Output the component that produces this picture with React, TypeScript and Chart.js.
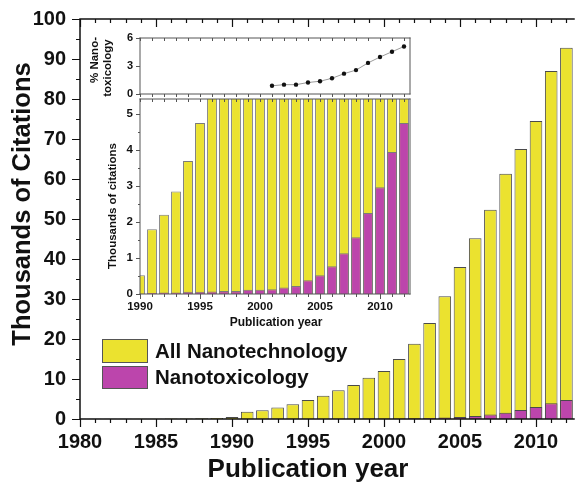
import React, { useEffect, useRef } from 'react';
import { Chart, registerables } from 'chart.js';

Chart.register(...registerables);

// ---------- data ----------
const years = [
  1980, 1981, 1982, 1983, 1984, 1985, 1986, 1987, 1988, 1989,
  1990, 1991, 1992, 1993, 1994, 1995, 1996, 1997, 1998, 1999,
  2000, 2001, 2002, 2003, 2004, 2005, 2006, 2007, 2008, 2009,
  2010, 2011, 2012,
];
// thousands of citations
const allNanotechnology = [
  0.04, 0.05, 0.05, 0.06, 0.07, 0.08, 0.1, 0.12, 0.18, 0.25,
  0.52, 1.8, 2.2, 2.85, 3.7, 4.75, 5.8, 7.2, 8.5, 10.3,
  12.0, 15.0, 18.8, 24.0, 30.7, 38.0, 45.2, 52.3, 61.3, 67.5,
  74.5, 87.0, 92.8,
];
const nanotoxicology = [
  0, 0, 0, 0, 0, 0, 0, 0, 0, 0,
  0.01, 0.03, 0.04, 0.04, 0.06, 0.06, 0.07, 0.08, 0.08, 0.12,
  0.12, 0.13, 0.18, 0.22, 0.38, 0.52, 0.77, 1.13, 1.58, 2.25,
  2.97, 3.95, 4.75,
];
const pctYears = [2001, 2002, 2003, 2004, 2005, 2006, 2007, 2008, 2009, 2010, 2011, 2012];
const pctNanotoxicology = [0.88, 1.0, 1.0, 1.23, 1.37, 1.68, 2.18, 2.56, 3.33, 3.96, 4.53, 5.09];

const seriesLabels = ['All Nanotechnology', 'Nanotoxicology'];
const mainXTitle = 'Publication year';
const mainYTitle = 'Thousands of Citations';
const insetXTitle = 'Publication year';
const insetYTitle = 'Thousands of citations';
const insetPctTitle = ['% Nano-', 'toxicology'];

// ---------- styles ----------
const FONT = "'Liberation Sans', Arial, Helvetica, sans-serif";
const YELLOW = '#ebe22f';
const MAGENTA = '#bc45ac';
const TEXT = '#111111';

type TickSpec = { scale: string; edge: 'left' | 'right' | 'top' | 'bottom'; step: number; len: number; inward?: boolean };
type TextSpec = { text: string; x: number; y: number; size: number; rot?: number; align?: CanvasTextAlign };
type DecorSpec = {
  origin: { x: number; y: number };
  frame?: { sides: string[]; color: string; width: number };
  ticks?: TickSpec[];
  tickColor?: string;
  tickWidth?: number;
  texts?: TextSpec[];
  legend?: { boxes: { x: number; y: number; w: number; h: number }[]; textX: number; size: number; order: number[]; border: string };
};

function makeDecor(spec: DecorSpec) {
  return {
    id: 'decor',
    afterDatasetsDraw(chart: any) {
      const ctx: CanvasRenderingContext2D = chart.ctx;
      const a = chart.chartArea;
      const ox = spec.origin.x;
      const oy = spec.origin.y;
      ctx.save();
      // ticks
      if (spec.ticks) {
        ctx.strokeStyle = spec.tickColor || TEXT;
        ctx.lineWidth = spec.tickWidth || 1;
        ctx.beginPath();
        for (const t of spec.ticks) {
          const sc = chart.scales[t.scale];
          const start = Math.ceil(sc.min / t.step - 1e-9) * t.step;
          for (let v = start; v <= sc.max + 1e-9; v += t.step) {
            const p = Math.round(sc.getPixelForValue(v)) + 0.5;
            if (t.edge === 'bottom' || t.edge === 'top') {
              const y0 = t.edge === 'bottom' ? a.bottom : a.top;
              const out = t.edge === 'bottom' ? 1 : -1;
              const d = t.inward ? -out : out;
              ctx.moveTo(p, y0);
              ctx.lineTo(p, y0 + d * t.len);
            } else {
              const x0 = t.edge === 'left' ? a.left : a.right;
              const out = t.edge === 'left' ? -1 : 1;
              const d = t.inward ? -out : out;
              ctx.moveTo(x0, p);
              ctx.lineTo(x0 + d * t.len, p);
            }
          }
        }
        ctx.stroke();
      }
      // frame
      if (spec.frame) {
        ctx.strokeStyle = spec.frame.color;
        ctx.lineWidth = spec.frame.width;
        ctx.lineCap = 'square';
        ctx.beginPath();
        const s = spec.frame.sides;
        if (s.includes('left')) { ctx.moveTo(a.left, a.top); ctx.lineTo(a.left, a.bottom); }
        if (s.includes('bottom')) { ctx.moveTo(a.left, a.bottom); ctx.lineTo(a.right, a.bottom); }
        if (s.includes('top')) { ctx.moveTo(a.left, a.top); ctx.lineTo(a.right, a.top); }
        if (s.includes('right')) { ctx.moveTo(a.right, a.top); ctx.lineTo(a.right, a.bottom); }
        ctx.stroke();
      }
      // texts
      ctx.fillStyle = TEXT;
      for (const t of spec.texts || []) {
        ctx.save();
        ctx.font = `bold ${t.size}px ${FONT}`;
        ctx.textAlign = t.align || 'center';
        ctx.textBaseline = 'middle';
        ctx.translate(t.x - ox, t.y - oy);
        if (t.rot) ctx.rotate(t.rot);
        ctx.fillText(t.text, 0, 0);
        ctx.restore();
      }
      // legend
      if (spec.legend) {
        const L = spec.legend;
        L.order.forEach((di, k) => {
          const ds = chart.data.datasets[di];
          const b = L.boxes[k];
          ctx.fillStyle = ds.backgroundColor;
          ctx.fillRect(b.x - ox, b.y - oy, b.w, b.h);
          ctx.strokeStyle = L.border;
          ctx.lineWidth = 1;
          ctx.strokeRect(b.x - ox + 0.5, b.y - oy + 0.5, b.w - 1, b.h - 1);
          ctx.fillStyle = TEXT;
          ctx.font = `bold ${L.size}px ${FONT}`;
          ctx.textAlign = 'left';
          ctx.textBaseline = 'middle';
          ctx.fillText(ds.label, L.textX - ox, b.y - oy + b.h / 2 + 1);
        });
      }
      ctx.restore();
    },
  };
}

function pts(xs: number[], ys: number[]) {
  return xs.map((x, i) => ({ x, y: ys[i] }));
}

function tickFont(size: number) {
  return { family: FONT, size, weight: 'bold' as const };
}

function fixWidth(w: number) {
  return (s: any) => {
    s.width = w;
    s.paddingTop = 0;
    s.paddingBottom = 0;
  };
}

function fixHeight(h: number) {
  return (s: any) => {
    s.height = h;
    s.paddingLeft = 0;
    s.paddingRight = 0;
  };
}

export default function App() {
  const mainRef = useRef<HTMLCanvasElement>(null);
  const topRef = useRef<HTMLCanvasElement>(null);
  const lowRef = useRef<HTMLCanvasElement>(null);

  useEffect(() => {
    const charts: Chart[] = [];

    // ---------- main chart ----------
    charts.push(
      new Chart(mainRef.current as HTMLCanvasElement, {
        type: 'bar',
        data: {
          datasets: [
            {
              label: seriesLabels[0],
              data: pts(years, allNanotechnology),
              backgroundColor: YELLOW,
              borderColor: '#4a4a4a',
              borderWidth: 1,
              order: 2,
              grouped: false,
              barPercentage: 0.83,
              categoryPercentage: 1,
              clip: 0,
            } as any,
            {
              label: seriesLabels[1],
              data: pts(years, nanotoxicology),
              backgroundColor: MAGENTA,
              borderColor: '#4a4a4a',
              borderWidth: 1,
              order: 1,
              grouped: false,
              barPercentage: 0.83,
              categoryPercentage: 1,
              clip: 0,
            } as any,
          ],
        },
        options: {
          responsive: false,
          animation: false,
          devicePixelRatio: 1,
          layout: { padding: { top: 19, right: 1, left: 0, bottom: 0 } },
          plugins: { legend: { display: false }, tooltip: { enabled: false } },
          scales: {
            x: {
              type: 'linear',
              min: 1980,
              max: 2012.5,
              offset: false,
              grid: { display: false, drawTicks: false },
              border: { display: false },
              ticks: {
                stepSize: 5,
                includeBounds: false,
                autoSkip: false,
                maxRotation: 0,
                padding: 11,
                color: TEXT,
                font: tickFont(20),
                callback: (v: any) => String(v),
              },
              afterFit: fixHeight(66),
            },
            y: {
              min: 0,
              max: 100,
              grid: { display: false, drawTicks: false },
              border: { display: false },
              ticks: { stepSize: 10, padding: 14, color: TEXT, font: tickFont(20) },
              afterFit: fixWidth(80),
            },
          },
        } as any,
        plugins: [
          makeDecor({
            origin: { x: 0, y: 0 },
            frame: { sides: ['left', 'bottom', 'top'], color: TEXT, width: 1.5 },
            tickColor: TEXT,
            tickWidth: 1.2,
            ticks: [
              { scale: 'x', edge: 'bottom', step: 1, len: 4 },
              { scale: 'x', edge: 'bottom', step: 5, len: 8 },
              { scale: 'x', edge: 'top', step: 1, len: 4, inward: true },
              { scale: 'x', edge: 'top', step: 5, len: 8, inward: true },
              { scale: 'y', edge: 'left', step: 5, len: 4 },
              { scale: 'y', edge: 'left', step: 10, len: 8 },
            ],
            texts: [
              { text: mainXTitle, x: 308, y: 470, size: 26 },
              { text: mainYTitle, x: 23, y: 204, size: 25.5, rot: -Math.PI / 2 },
            ],
            legend: {
              boxes: [
                { x: 102, y: 339, w: 46, h: 24 },
                { x: 102, y: 366, w: 46, h: 23 },
              ],
              textX: 155,
              size: 20.5,
              order: [0, 1],
              border: '#555555',
            },
          }) as any,
        ],
      })
    );

    // ---------- inset: % nanotoxicology ----------
    charts.push(
      new Chart(topRef.current as HTMLCanvasElement, {
        type: 'line',
        data: {
          datasets: [
            {
              label: '% Nanotoxicology',
              data: pts(pctYears, pctNanotoxicology),
              borderColor: '#9a9a9a',
              borderWidth: 1,
              pointRadius: 2.2,
              pointBackgroundColor: '#111111',
              pointBorderColor: '#111111',
              pointBorderWidth: 0,
              fill: false,
              tension: 0,
            },
          ],
        },
        options: {
          responsive: false,
          animation: false,
          devicePixelRatio: 1,
          layout: { padding: { top: 10, right: 10, left: 0, bottom: 6 } },
          plugins: { legend: { display: false }, tooltip: { enabled: false } },
          scales: {
            x: { type: 'linear', min: 1990, max: 2012.5, display: false },
            y: {
              min: 0,
              max: 6,
              grid: { display: false, drawTicks: false },
              border: { display: false },
              ticks: { stepSize: 3, padding: 7, color: TEXT, font: tickFont(11) },
              afterFit: fixWidth(55),
            },
          },
        } as any,
        plugins: [
          makeDecor({
            origin: { x: 85, y: 28 },
            frame: { sides: ['left', 'bottom', 'top', 'right'], color: '#555555', width: 1 },
            tickColor: '#555555',
            ticks: [
              { scale: 'x', edge: 'bottom', step: 1, len: 3 },
              { scale: 'x', edge: 'top', step: 1, len: 3, inward: true },
              { scale: 'y', edge: 'left', step: 3, len: 4 },
            ],
            texts: [
              { text: insetPctTitle[0], x: 95, y: 60, size: 11.5, rot: -Math.PI / 2 },
              { text: insetPctTitle[1], x: 107.5, y: 68, size: 11.5, rot: -Math.PI / 2 },
            ],
          }) as any,
        ],
      })
    );

    // ---------- inset: thousands of citations since 1990 ----------
    charts.push(
      new Chart(lowRef.current as HTMLCanvasElement, {
        type: 'bar',
        data: {
          datasets: [
            {
              label: seriesLabels[0],
              data: pts(years, allNanotechnology),
              backgroundColor: YELLOW,
              borderColor: '#7a7a7a',
              borderWidth: 1,
              order: 2,
              grouped: false,
              barPercentage: 0.82,
              categoryPercentage: 1,
              clip: 0,
            } as any,
            {
              label: seriesLabels[1],
              data: pts(years, nanotoxicology),
              backgroundColor: MAGENTA,
              borderColor: '#7a7a7a',
              borderWidth: 1,
              order: 1,
              grouped: false,
              barPercentage: 0.82,
              categoryPercentage: 1,
              clip: 0,
            } as any,
          ],
        },
        options: {
          responsive: false,
          animation: false,
          devicePixelRatio: 1,
          layout: { padding: { top: 2, right: 10, left: 0, bottom: 0 } },
          plugins: { legend: { display: false }, tooltip: { enabled: false } },
          scales: {
            x: {
              type: 'linear',
              min: 1990,
              max: 2012.5,
              offset: false,
              grid: { display: false, drawTicks: false },
              border: { display: false },
              ticks: {
                stepSize: 5,
                includeBounds: false,
                autoSkip: false,
                maxRotation: 0,
                padding: 6,
                color: TEXT,
                font: tickFont(11.5),
                callback: (v: any) => String(v),
              },
              afterFit: fixHeight(39),
            },
            y: {
              min: 0,
              max: 5.42,
              grid: { display: false, drawTicks: false },
              border: { display: false },
              ticks: { stepSize: 1, includeBounds: false, padding: 7, color: TEXT, font: tickFont(11.5) },
              afterFit: fixWidth(55),
            },
          },
        } as any,
        plugins: [
          makeDecor({
            origin: { x: 85, y: 97 },
            frame: { sides: ['left', 'bottom', 'top', 'right'], color: '#555555', width: 1 },
            tickColor: '#555555',
            ticks: [
              { scale: 'x', edge: 'bottom', step: 1, len: 3 },
              { scale: 'x', edge: 'bottom', step: 5, len: 5 },
              { scale: 'x', edge: 'top', step: 1, len: 3, inward: true },
              { scale: 'y', edge: 'left', step: 0.5, len: 2 },
              { scale: 'y', edge: 'left', step: 1, len: 4 },
            ],
            texts: [
              { text: insetXTitle, x: 276, y: 323, size: 12 },
              { text: insetYTitle, x: 113, y: 206, size: 11.5, rot: -Math.PI / 2 },
            ],
          }) as any,
        ],
      })
    );

    return () => charts.forEach((c) => c.destroy());
  }, []);

  return (
    <div style={{ position: 'absolute', left: 0, top: 0, width: 575, height: 485, background: '#ffffff' }}>
      <canvas ref={mainRef} width={575} height={485} style={{ position: 'absolute', left: 0, top: 0, width: 575, height: 485 }} />
      <canvas ref={topRef} width={335} height={72} style={{ position: 'absolute', left: 85, top: 28, width: 335, height: 72 }} />
      <canvas ref={lowRef} width={335} height={236} style={{ position: 'absolute', left: 85, top: 97, width: 335, height: 236 }} />
    </div>
  );
}
